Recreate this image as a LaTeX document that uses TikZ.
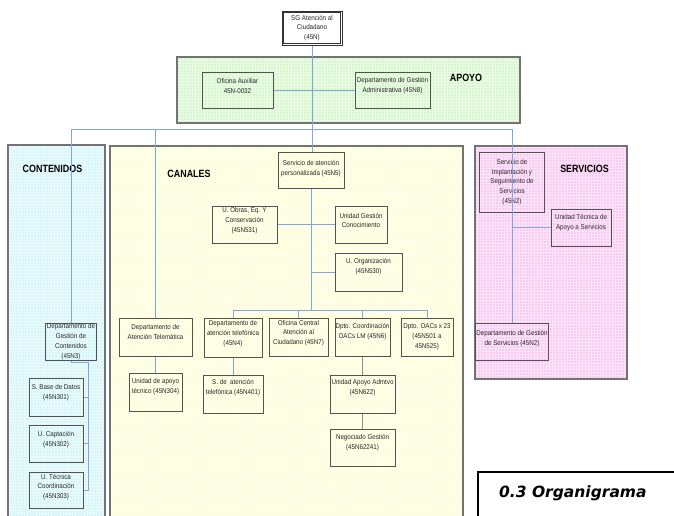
\documentclass[tikz,border=0pt]{standalone}
\usepackage{fontspec}
\setmainfont[FakeStretch=0.89]{Liberation Sans}
\newfontfamily\orgtitlefont[FakeStretch=0.85]{Liberation Sans}
\newfontfamily\verdfont{DejaVu Sans}
\definecolor{connblue}{RGB}{126,166,216}
\definecolor{gbase}{RGB}{214,247,206}
\definecolor{gline}{RGB}{236,252,231}
\definecolor{cbase}{RGB}{212,245,250}
\definecolor{cline}{RGB}{236,252,254}
\definecolor{ybase}{RGB}{255,253,214}
\definecolor{yline}{RGB}{255,255,240}
\definecolor{pbase}{RGB}{249,203,242}
\definecolor{pline}{RGB}{253,228,250}
\newcommand\orgpanel[6]{%
  \fill[#5] (#1,#2) rectangle (#3,#4);
  \begin{scope}
    \clip (#1,#2) rectangle (#3,#4);
    \draw[#6, line width=0.5pt, step=3pt] (#1,#4) grid (#3,#2);
  \end{scope}
  \draw[panelborder] (#1,#2) rectangle (#3,#4);}
\newcommand\orgbox[6][4pt]{%
  \node[obox, minimum width=#4pt, minimum height=#5pt] (#2) at #3 {};
  \node[otext] (#2-t) at ([yshift=#1]#2.center) {#6};}
\begin{document}
\begin{tikzpicture}[x=1pt,y=-1pt,
  panelborder/.style={draw=black!55, line width=1.2pt},
  obox/.style={draw=black!68, line width=1pt, inner sep=0pt},
  otext/.style={align=center, inner sep=0pt, text=black!85, font=\fontsize{7}{9.8}\selectfont},
  conn/.style={draw=connblue, line width=1pt},
  conng/.style={draw=black!45, line width=1pt},
  ttl/.style={inner sep=0pt, font=\orgtitlefont\bfseries\fontsize{10.5}{12}\selectfont}]
\clip (0,0) rectangle (674,515);
\fill[white] (0,0) rectangle (674,515);

% panels
\orgpanel{177}{57}{520}{123}{gbase}{gline}
\orgpanel{8}{145}{105}{520}{cbase}{cline}
\orgpanel{110}{146}{463}{520}{ybase}{yline}
\orgpanel{475}{146}{627}{379}{pbase}{pline}

% titles
\node[ttl] (tapoyo) at (466,77.5) {APOYO};
\node[ttl] (tcont) at (52.5,169) {CONTENIDOS};
\node[ttl] (tcan) at (189,174) {CANALES};
\node[ttl] (tserv) at (584.5,169) {SERVICIOS};

% connector helper points
\coordinate (busR) at (512,129);
\coordinate (cspine) at (88,362);
\coordinate (cbus) at (311,310);

% top box (double frame)
\node[draw=black!80, line width=1pt, fill=white,
      minimum width=60pt, minimum height=34pt, inner sep=0pt] (top) at (312,28) {};
\draw[black!80, line width=0.8pt] ([xshift=2.2pt,yshift=-2.2pt]top.north west) rectangle ([xshift=-2.2pt,yshift=2.2pt]top.south east);
\node[otext] (top-t) at (top.center) {SG Atención al\\Ciudadano\\(45N)};

% apoyo
\orgbox{ofaux}{(237.5,90)}{71}{36}{Oficina Auxiliar\\45N-0032}
\orgbox{dga}{(392.5,90)}{75}{36}{Departamento de Gestión\\Administrativa (45N8)}

% contenidos
\orgbox[0pt]{dgc}{(71,341.5)}{51}{37}{Departamento  de\\Gestión de\\Contenidos\\(45N3)}
\orgbox{sbd}{(56,397)}{54}{38}{S. Base de Datos\\(45N301)}
\orgbox{ucap}{(56,443.5)}{54}{37}{U. Captación\\(45N302)}
\orgbox[3pt]{utc}{(56,490)}{54}{36}{U. Técnica\\Coordinación\\(45N303)}

% canales
\orgbox[1pt]{sap}{(311,170)}{66}{36}{Servicio de atención\\personalizada (45N5)}
\orgbox{uobras}{(244.5,224.5)}{65}{37}{U. Obras, Eq. Y\\Conservación\\(45N531)}
\orgbox{ugc}{(361,224.5)}{52}{37}{Unidad Gestión\\Conocimiento}
\orgbox[5pt]{uorg}{(368.5,272)}{67}{38}{U. Organización\\(45N530)}
\orgbox[5pt]{dat}{(155.5,337)}{73}{38}{Departamento de\\Atención Telemática}
\orgbox{dtel}{(233,337.5)}{58}{39}{Departamento de\\atención telefónica\\(45N4)}
\orgbox{ofc}{(298.5,337)}{59}{38}{Oficina Central\\Atención al\\Ciudadano (45N7)}
\orgbox[5pt]{dco}{(362.5,337)}{55}{38}{Dpto. Coordinación\\OACs LM (45N6)}
\orgbox[0pt]{doacs}{(427,337)}{52}{38}{Dpto. OACs x 23\\(45N501 a\\45N525)}
\orgbox[5pt]{uat}{(155.5,392)}{53}{38}{Unidad de apoyo\\técnico (45N304)}
\orgbox[6pt]{sat}{(233,394)}{60}{38}{S. de\ \ atención\\telefónica (45N401)}
\orgbox[6pt]{uaa}{(362.5,394)}{65}{38}{Unidad Apoyo Admtvo\\(45N622)}
\orgbox[5pt]{neg}{(362.5,447.5)}{65}{37}{Negociado Gestión\\(45N62241)}

% servicios
\orgbox[0pt]{sis}{(512,182)}{65}{60}{Servicio de\\Implantación y\\Seguimiento de\\Servicios\\(45N2)}
\orgbox[5pt]{utas}{(581,227.5)}{60}{37}{Unidad Técnica de\\Apoyo a Servicios}
\orgbox[3pt]{dgs}{(512,341.5)}{73}{37}{Departamento de Gestión\\de Servicios (45N2)}

% connectors
\draw[conn] (top.south) -- (sap.north -| top.south);
\draw[conn] (ofaux.east) -- (dga.west);
\draw[conn] (dgc.north) |- (busR) -- (dgs.north);
\draw[conn] (dat.north) -- (dat.north |- busR);
\draw[conn] (dgc.south) |- (cspine) -- (cspine |- utc.east) -- (utc.east);
\draw[conn] (sbd.east) -- (sbd.east -| cspine);
\draw[conn] (ucap.east) -- (ucap.east -| cspine);
\draw[conn] (sap.south) -- (cbus);
\draw[conn] (uobras.east) -- (ugc.west);
\draw[conn] (uorg.west) -- (uorg.west -| cbus);
\draw[conn] (dtel.north) |- (doacs.north |- cbus) -- (doacs.north);
\draw[conn] (ofc.north) -- (ofc.north |- cbus);
\draw[conn] (dco.north) -- (dco.north |- cbus);
\draw[conn] (dat.south) -- (uat.north);
\draw[conn] (dtel.south) -- (sat.north);
\draw[conng] (dco.south) -- (uaa.north);
\draw[conng] (uaa.south) -- (neg.north);
\draw[conn] (utas.west) -- (utas.west -| busR);

% caption box
\coordinate (capTL) at (478,472);
\draw[line width=1.3pt] (capTL |- 0,520) -- (capTL) -- (680,472);
\node[anchor=west, inner sep=0pt, font=\verdfont\bfseries\itshape\fontsize{15.5}{18}\selectfont] (org) at (499,493) {0.3 Organigrama};
\end{tikzpicture}
\end{document}
